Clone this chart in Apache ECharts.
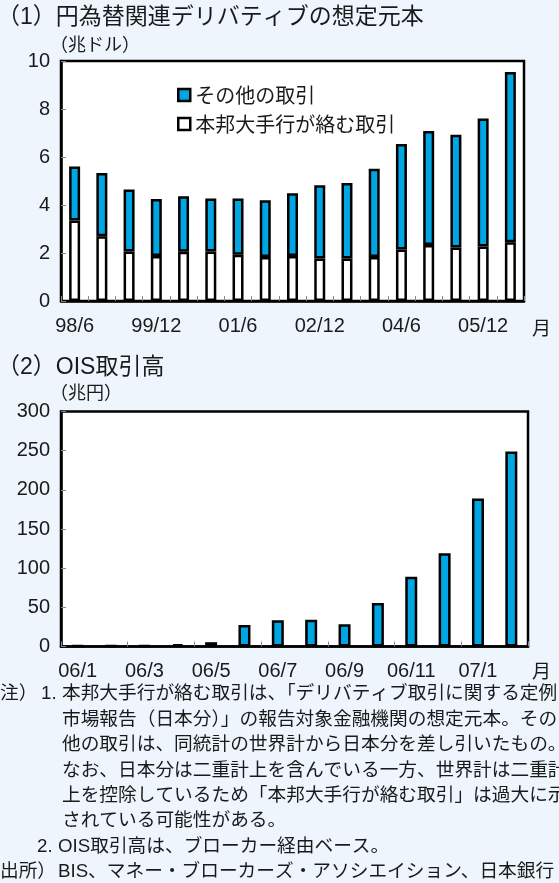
<!DOCTYPE html>
<html><head><meta charset="utf-8">
<script src="https://cdn.jsdelivr.net/npm/echarts/dist/echarts.min.js"></script>
<style>html,body{margin:0;padding:0;background:#EEF5FC;} #c{width:559px;height:883px;}</style>
</head><body><div id="c"></div>
<script>
// ---- Data ----
const fxCategories = ['98/6','98/12','99/6','99/12','00/6','00/12','01/6','01/12','02/6','02/12','03/6','03/12','04/6','04/12','05/6','05/12','06/6'];
const majorBanks = [3.35,2.70,2.06,1.87,2.05,2.06,1.93,1.83,1.87,1.77,1.77,1.83,2.15,2.33,2.23,2.27,2.45];
const otherTrades = [2.25,2.63,2.59,2.38,2.31,2.21,2.34,2.37,2.62,3.05,3.15,3.68,4.39,4.75,4.70,5.33,7.09];
const oisCategories = ['06/1','06/2','06/3','06/4','06/5','06/6','06/7','06/8','06/9','06/10','06/11','06/12','07/1','07/2'];
const oisVolume = [1,1,1.5,3,5.5,27.5,33.5,34,28.5,55.5,89,119,189,249];
const seriesNames = ['本邦大手行が絡む取引','その他の取引','OIS取引高'];
const noteLines = [
  '本邦大手行が絡む取引は、「デリバティブ取引に関する定例',
  '市場報告（日本分）」の報告対象金融機関の想定元本。その',
  '他の取引は、同統計の世界計から日本分を差し引いたもの。',
  'なお、日本分は二重計上を含んでいる一方、世界計は二重計',
  '上を控除しているため「本邦大手行が絡む取引」は過大に示',
  'されている可能性がある。'
];

const FONT = '"Liberation Sans", "Noto Sans CJK JP", sans-serif';
const JP = '"Noto Sans CJK JP", sans-serif';
const BLUE = '#00A5E4';
const INK = '#1a1a1a';

function xAxisCfg(grid, data, labelInt, tickInt) {
  return {
    type: 'category', gridIndex: grid, data: data,
    axisLine: {show: true, lineStyle: {color: '#000', width: 2.5}},
    axisTick: {show: true, inside: true, length: 5, interval: tickInt, lineStyle: {color: '#888', width: 1}},
    axisLabel: {interval: labelInt, fontSize: 20, color: INK, margin: 15, fontFamily: FONT}
  };
}
function yAxisCfg(grid, max, step) {
  return {
    type: 'value', gridIndex: grid, min: 0, max: max, interval: step,
    splitLine: {show: false},
    axisLine: {show: true, lineStyle: {color: '#000', width: 2.5}},
    axisTick: {show: true, inside: true, length: 5, lineStyle: {color: '#888', width: 1}},
    axisLabel: {fontSize: 20, color: INK, margin: 11, fontFamily: FONT}
  };
}
function txt(x, y, s, size, family, extra) {
  return Object.assign({type: 'text', left: x, top: y, style: {text: s, fontSize: size, fontFamily: family || JP, fill: INK}}, extra || {});
}

const graphics = [
  txt(-3, 6, '（1）円為替関連デリバティブの想定元本', 23, FONT),
  txt(50, 37, '（兆ドル）', 18, FONT),
  txt(532, 320, '月', 19, FONT),
  txt(-3, 356, '（2）OIS取引高', 23, FONT),
  txt(50, 385, '（兆円）', 18, FONT),
  txt(532, 663, '月', 19, FONT)
];
const NY0 = 685, NDY = 25.4, NFS = 18.7;
graphics.push(txt(0, NY0, '注）', NFS, FONT));
graphics.push(txt(41, NY0, '1.', NFS, FONT));
noteLines.forEach((s, i) => graphics.push(txt(62, NY0 + i * NDY, s, NFS, FONT)));
graphics.push(txt(37, NY0 + 6 * NDY, '2.', NFS, FONT));
graphics.push(txt(58, NY0 + 6 * NDY, 'OIS取引高は、ブローカー経由ベース。', NFS, FONT));
graphics.push(txt(0, NY0 + 7 * NDY, '出所）', NFS, FONT));
graphics.push(txt(58, NY0 + 7 * NDY, 'BIS、マネー・ブローカーズ・アソシエイション、日本銀行', NFS, FONT));

const chart = echarts.init(document.getElementById('c'), null, {renderer: 'canvas'});
chart.setOption({
  backgroundColor: '#EEF5FC',
  animation: false,
  textStyle: {fontFamily: FONT},
  grid: [
    {left: 61, top: 61, width: 463, height: 240, show: true, backgroundColor: '#fff', borderColor: '#000', borderWidth: 2.5},
    {left: 61, top: 411.5, width: 467, height: 235, show: true, backgroundColor: '#fff', borderColor: '#000', borderWidth: 2.5}
  ],
  xAxis: [xAxisCfg(0, fxCategories, 2, 0), xAxisCfg(1, oisCategories, 1, 1)],
  yAxis: [yAxisCfg(0, 10, 2), yAxisCfg(1, 300, 50)],
  legend: {
    left: 172, top: 80, orient: 'vertical', icon: 'rect',
    itemWidth: 12, itemHeight: 12, itemGap: 9,
    data: [
      {name: seriesNames[1], itemStyle: {color: BLUE, borderColor: '#000', borderWidth: 2.5}},
      {name: seriesNames[0], itemStyle: {color: '#fff', borderColor: '#000', borderWidth: 2.5}}
    ],
    textStyle: {fontSize: 20, color: INK, fontFamily: JP}
  },
  series: [
    {name: seriesNames[0], type: 'bar', stack: 'fx', xAxisIndex: 0, yAxisIndex: 0, data: majorBanks, barWidth: 11,
     itemStyle: {color: '#fff', borderColor: '#000', borderWidth: 2.5}},
    {name: seriesNames[1], type: 'bar', stack: 'fx', xAxisIndex: 0, yAxisIndex: 0, data: otherTrades, barWidth: 11,
     itemStyle: {color: BLUE, borderColor: '#000', borderWidth: 2.5}},
    {name: seriesNames[2], type: 'bar', xAxisIndex: 1, yAxisIndex: 1, data: oisVolume, barWidth: 12,
     itemStyle: {color: BLUE, borderColor: '#000', borderWidth: 2.5}}
  ],
  graphic: graphics
});
</script></body></html>
